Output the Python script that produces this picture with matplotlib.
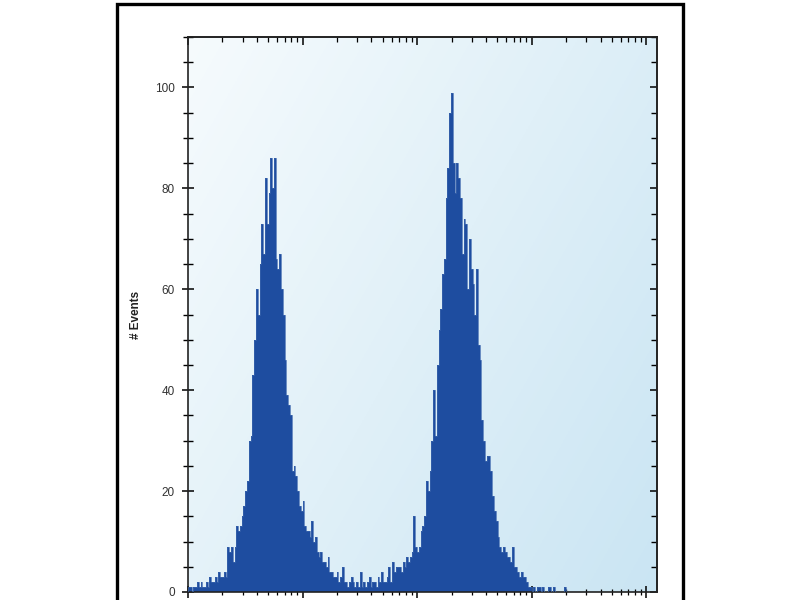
import numpy as np
import matplotlib
matplotlib.use('Agg')
import matplotlib.pyplot as plt
from matplotlib.patches import Rectangle
from matplotlib.ticker import LogLocator, MultipleLocator, NullFormatter

# 256 channels over 4 decades, counts
counts = [
    1, 1, 0, 1, 1, 2, 1, 2, 1, 1, 2, 1, 3, 2, 2, 3,
    2, 4, 3, 3, 4, 3, 9, 8, 9, 6, 9, 13, 12, 13, 15, 17,
    20, 22, 30, 31, 43, 50, 60, 55, 65, 73, 67, 82, 73, 79, 86, 80,
    86, 66, 64, 67, 60, 55, 46, 39, 37, 35, 24, 25, 23, 20, 17, 16,
    18, 13, 12, 12, 11, 14, 10, 11, 8, 7, 8, 6, 6, 5, 7, 4,
    4, 3, 3, 4, 2, 3, 5, 2, 2, 1, 2, 3, 2, 1, 2, 1,
    4, 1, 2, 1, 2, 3, 1, 2, 2, 1, 3, 2, 4, 2, 2, 3,
    5, 2, 6, 4, 5, 5, 5, 4, 6, 5, 7, 6, 7, 8, 15, 9,
    8, 9, 12, 13, 15, 22, 20, 24, 30, 40, 31, 45, 52, 56, 63, 66,
    78, 84, 95, 99, 85, 79, 85, 82, 78, 67, 74, 73, 60, 70, 64, 61,
    55, 64, 49, 46, 34, 30, 26, 27, 27, 24, 19, 16, 14, 11, 9, 8,
    9, 8, 7, 7, 6, 9, 5, 5, 4, 3, 4, 3, 3, 2, 1, 1,
    0, 1, 0, 1, 1, 0, 1, 0, 0, 1, 1, 0, 1, 0, 0, 0,
    0, 0, 1, 0, 0, 0, 0, 0, 0, 0, 0, 0, 0, 0, 0, 0,
    0, 0, 0, 0, 0, 0, 0, 0, 0, 0, 0, 0, 0, 0, 0, 0,
    0, 0, 0, 0, 0, 0, 0, 0, 0, 0, 0, 0, 0, 0, 0, 0,
]
y_ticks = [0, 20, 40, 60, 80, 100]
y_label = '# Events'

edges = 10 ** (np.arange(len(counts) + 1) / 64.0)

plt.rcParams['font.family'] = ['Liberation Sans', 'DejaVu Sans']

fig = plt.figure(figsize=(8, 6), dpi=100)
fig.patch.set_facecolor('white')
ax = fig.add_axes([188 / 800, 8 / 600, 469 / 800, 555 / 600])

# light blue gradient background
u = np.linspace(0, 1, 200)
v = np.linspace(0, 1, 200)
U, V = np.meshgrid(u, v)
t = 0.6 * U + 0.4 * V
c0 = np.array([246, 251, 253]) / 255
c1 = np.array([202, 229, 243]) / 255
img = c0[None, None, :] * (1 - t[..., None]) + c1[None, None, :] * t[..., None]
ax.imshow(img, extent=[0, 1, 0, 1], transform=ax.transAxes, aspect='auto',
          zorder=0, origin='upper')

ax.stairs(counts, edges, fill=True, color='#1e4da0', zorder=2)
ax.stairs(counts, edges, color='#3a64ac', linewidth=0.5, zorder=3)

ax.set_xscale('log')
ax.set_xlim(1, 10 ** 4.095)
ax.set_ylim(0, 110)

ax.set_yticks(y_ticks)
ax.yaxis.set_minor_locator(MultipleLocator(5))
ax.xaxis.set_major_locator(LogLocator(base=10, numticks=10))
ax.xaxis.set_minor_locator(LogLocator(base=10, subs=np.arange(2, 10), numticks=10))
ax.xaxis.set_major_formatter(NullFormatter())
ax.xaxis.set_minor_formatter(NullFormatter())

ax.tick_params(axis='y', which='major', direction='inout', length=9, width=1.1,
               labelsize=8.5, labelcolor='#333333', pad=5)
ax.tick_params(axis='y', which='minor', direction='inout', length=7, width=1.0)
ax.tick_params(axis='x', which='major', direction='inout', length=9, width=1.1)
ax.tick_params(axis='x', which='minor', direction='inout', length=5, width=0.9)

# top and right: ticks pointing into the plot only
top = ax.secondary_xaxis('top')
top.xaxis.set_major_locator(LogLocator(base=10, numticks=10))
top.xaxis.set_minor_locator(LogLocator(base=10, subs=np.arange(2, 10), numticks=10))
top.xaxis.set_major_formatter(NullFormatter())
top.xaxis.set_minor_formatter(NullFormatter())
top.tick_params(which='major', direction='in', length=6, width=1.1)
top.tick_params(which='minor', direction='in', length=3.5, width=0.9)

right = ax.secondary_yaxis('right')
right.set_yticks(y_ticks)
right.yaxis.set_minor_locator(MultipleLocator(5))
right.yaxis.set_major_formatter(NullFormatter())
right.tick_params(which='major', direction='in', length=5, width=1.1)
right.tick_params(which='minor', direction='in', length=4, width=1.0)

for a in (ax, top, right):
    for s in a.spines.values():
        s.set_linewidth(1.2)
        s.set_color('#222222')

ax.set_ylabel(y_label, fontsize=8.5, fontweight='bold', color='#222222')
ax.yaxis.set_label_coords(-0.098, 0.5)

# outer frame of the picture
fig.patches.append(Rectangle((117 / 800, -0.1), 566 / 800, 1.0967 - 2 / 600,
                             transform=fig.transFigure, fill=False,
                             edgecolor='black', linewidth=2.4))

fig.savefig('out.png', dpi=100, facecolor='white')
